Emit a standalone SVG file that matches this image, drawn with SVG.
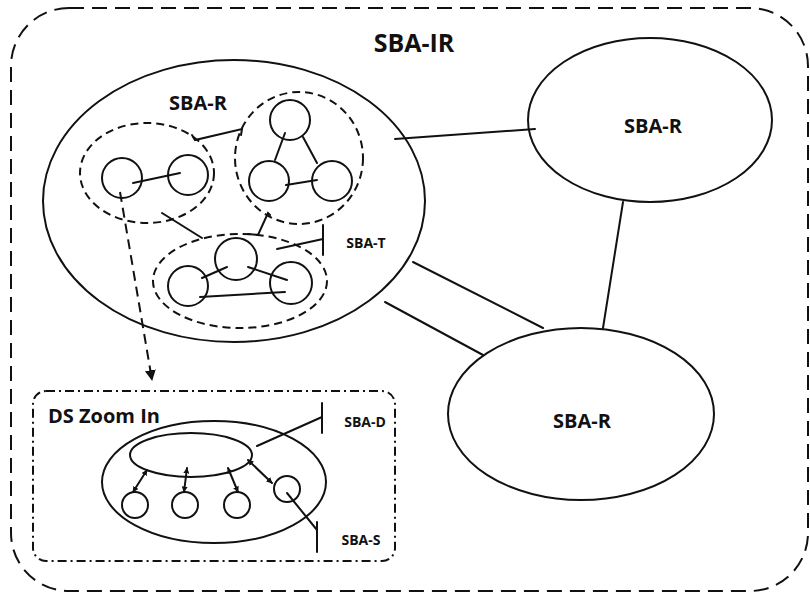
<svg xmlns="http://www.w3.org/2000/svg" width="810" height="594" viewBox="0 0 810 594">
<style>
.ln{fill:none;stroke:#111;stroke-width:2;stroke-linecap:round}
.node{fill:none;stroke:#111;stroke-width:2}
.dash{fill:none;stroke:#111;stroke-width:2;stroke-dasharray:8 5}
.outer{fill:none;stroke:#111;stroke-width:2;stroke-dasharray:15 8}
.dsbox{fill:none;stroke:#111;stroke-width:2;stroke-dasharray:9 4 2 4}
.t{font-family:"Open Sans","Liberation Sans",sans-serif;font-weight:bold;fill:#111}
</style>
<defs>
<marker id="ah" viewBox="0 0 10 10" refX="9" refY="5" markerWidth="6" markerHeight="6" markerUnits="userSpaceOnUse" orient="auto-start-reverse">
<path d="M0,0 L10,5 L0,10 z" fill="#111"/>
</marker>
<marker id="big" viewBox="0 0 10 10" refX="9" refY="5" markerWidth="11" markerHeight="11" markerUnits="userSpaceOnUse" orient="auto">
<path d="M0,0 L10,5 L0,10 z" fill="#111"/>
</marker>
</defs>
<rect width="810" height="594" fill="#fff"/>

<g id="sba-ir">
<rect class="outer" x="11" y="8" width="797" height="583" rx="58" ry="58"/>
<text class="t" x="414" y="52" font-size="25" text-anchor="middle">SBA-IR</text>
</g>

<g id="sba-r-left">
<ellipse class="node" cx="234" cy="201" rx="191" ry="141"/>
<text class="t" x="198" y="110" font-size="20" text-anchor="middle">SBA-R</text>
</g>

<g id="group-pair">
<ellipse class="dash" cx="147" cy="173" rx="67" ry="50"/>
<circle class="node" cx="122" cy="178" r="20"/>
<circle class="node" cx="188" cy="175" r="20"/>
<line class="ln" x1="133" y1="183" x2="180" y2="173"/>
</g>

<g id="group-triangle">
<ellipse class="dash" cx="299" cy="158" rx="64" ry="66"/>
<circle class="node" cx="290" cy="120" r="20"/>
<circle class="node" cx="269" cy="181" r="20"/>
<circle class="node" cx="332" cy="181" r="20"/>
<line class="ln" x1="285" y1="133" x2="275" y2="160"/>
<line class="ln" x1="303" y1="137" x2="317" y2="163"/>
<line class="ln" x1="286" y1="185" x2="317" y2="180"/>
</g>

<g id="group-bottom">
<ellipse class="dash" cx="240" cy="281" rx="87" ry="47"/>
<circle class="node" cx="236" cy="259" r="21"/>
<circle class="node" cx="188" cy="286" r="20"/>
<circle class="node" cx="291" cy="283" r="21"/>
<line class="ln" x1="202" y1="278" x2="227" y2="267"/>
<line class="ln" x1="248" y1="267" x2="287" y2="280"/>
<line class="ln" x1="200" y1="297" x2="285" y2="292"/>
</g>

<g id="sba-t">
<line class="ln" x1="323" y1="225" x2="323" y2="255"/>
<line class="ln" x1="277" y1="249" x2="323" y2="239"/>
<text class="t" x="366" y="248" font-size="14" text-anchor="middle">SBA-T</text>
</g>

<g id="sba-r-top-right">
<ellipse class="node" cx="650" cy="120" rx="122" ry="82"/>
<text class="t" x="653" y="133" font-size="20" text-anchor="middle">SBA-R</text>
</g>

<g id="sba-r-bottom-right">
<ellipse class="node" cx="581" cy="414" rx="133" ry="86"/>
<text class="t" x="582" y="428" font-size="20" text-anchor="middle">SBA-R</text>
</g>

<g id="ds-zoom-in">
<rect class="dsbox" x="33" y="391" width="362" height="170" rx="13" ry="13"/>
<text class="t" x="48" y="423" font-size="20">DS Zoom In</text>
<ellipse class="node" cx="214" cy="482" rx="112" ry="61"/>
<ellipse class="node" cx="191" cy="455" rx="61" ry="22"/>
<circle class="node" cx="135" cy="505" r="13"/>
<circle class="node" cx="185" cy="505" r="13"/>
<circle class="node" cx="237" cy="505" r="13"/>
<circle class="node" cx="287" cy="489" r="13"/>
<line class="ln" x1="147" y1="470" x2="133" y2="492" marker-start="url(#ah)" marker-end="url(#ah)"/>
<line class="ln" x1="187" y1="468" x2="184" y2="492" marker-start="url(#ah)" marker-end="url(#ah)"/>
<line class="ln" x1="228" y1="468" x2="238" y2="492" marker-start="url(#ah)" marker-end="url(#ah)"/>
<line class="ln" x1="248" y1="460" x2="272" y2="483" marker-start="url(#ah)" marker-end="url(#ah)"/>
</g>

<g id="sba-d">
<line class="ln" x1="322" y1="403" x2="322" y2="433"/>
<line class="ln" x1="257" y1="446" x2="322" y2="417"/>
<text class="t" x="365" y="427" font-size="14" text-anchor="middle">SBA-D</text>
</g>

<g id="sba-s">
<line class="ln" x1="317" y1="522" x2="317" y2="552"/>
<line class="ln" x1="287" y1="493" x2="317" y2="530"/>
<text class="t" x="361" y="545" font-size="14" text-anchor="middle">SBA-S</text>
</g>

<g id="connectors">
<line class="ln" x1="395" y1="139" x2="535" y2="129"/>
<line class="ln" x1="623" y1="202" x2="603" y2="328"/>
<line class="ln" x1="413" y1="262" x2="543" y2="328"/>
<line class="ln" x1="385" y1="302" x2="483" y2="355"/>
<polyline class="ln" points="192,135 195,140 242,129 241,135"/>
<line class="ln" x1="162" y1="213" x2="202" y2="238"/>
<polyline class="ln" points="270,215 268,213 258,235 248,234"/>
<line stroke="#111" stroke-width="2" stroke-dasharray="10 6" x1="120" y1="192" x2="152" y2="380" marker-end="url(#big)"/>
</g>
</svg>
